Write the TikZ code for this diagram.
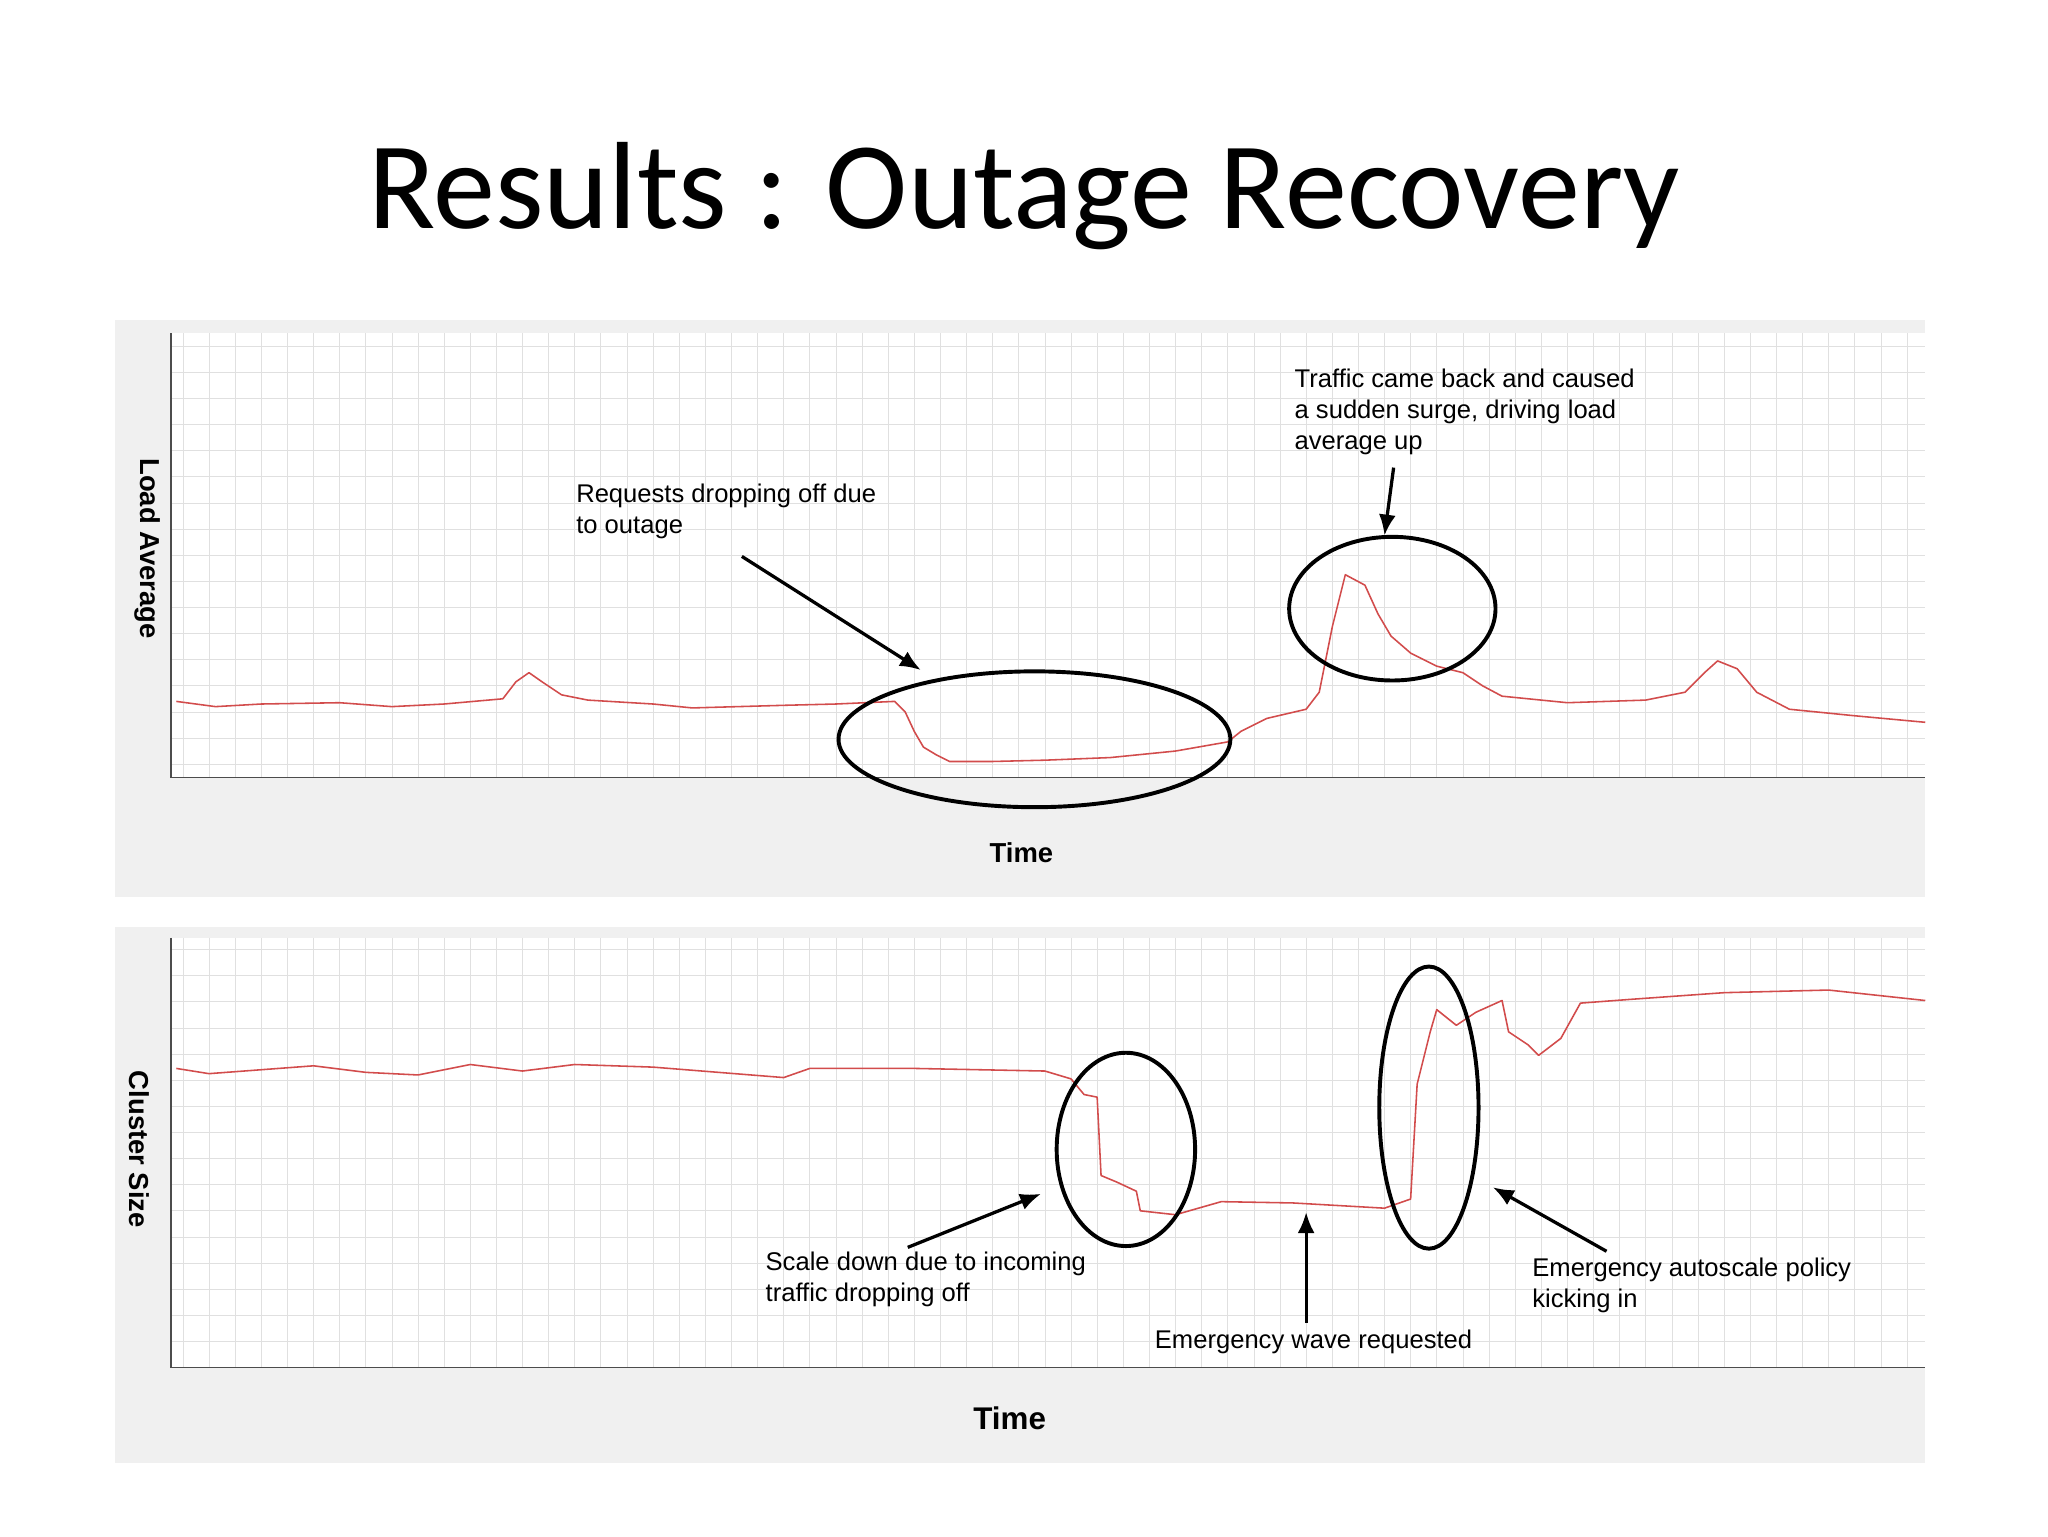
\documentclass[tikz,border=0pt]{standalone}
\usepackage{fontspec}
\setmainfont{Liberation Sans}
\newfontfamily\titlefont{Carlito}
\begin{document}
\begin{tikzpicture}[x=1pt,y=-1pt,
 panel/.style={fill=black!6,draw=none},
 gridl/.style={draw=black!12,line width=0.5pt},
 redl/.style={draw=red!75!black!70,line width=1.2pt,line join=round},
 ring/.style={draw=black,line width=3pt},
 arr/.style={draw=black,line width=2.5pt,-{Latex[length=16pt,width=13pt]}},
 note/.style={font=\fontsize{19.6}{24}\selectfont,align=left,anchor=north west,inner sep=0},
 axl/.style={font=\bfseries\fontsize{21}{24}\selectfont}]
\useasboundingbox (0,0) rectangle (1568,1176);
\usetikzlibrary{arrows.meta}
\node[font=\titlefont\fontsize{95}{100}\selectfont] (title) at (784,150) {Results : Outage Recovery};
% top panel
\fill[panel] (88,245) rectangle (1474,687);
\fill[white] (131,255) rectangle (1474,595);
\foreach \x in {140,160,...,1470} \draw[gridl] (\x,255) -- (\x,595);
\foreach \y in {265,285,...,595} \draw[gridl] (131,\y) -- (1474,\y);
\draw[black!70,line width=1pt] (131,255) -- (131,595) -- (1474,595);
\node[axl,rotate=-90] (ylab1) at (113,420) {Load Average};
\node[axl] (xlab1) at (782,653) {Time};
\draw[redl] (135,537) -- (165,541) -- (200,539) -- (260,538) -- (300,541) -- (340,539) -- (385,535) -- (395,522) -- (405,515) -- (415,522) -- (430,532) -- (450,536) -- (500,539) -- (530,542) -- (600,540) -- (640,539) -- (685,537) -- (693,545) -- (700,560) -- (707,572) -- (717,578) -- (727,583) -- (760,583) -- (800,582) -- (850,580) -- (900,575) -- (940,568) -- (950,560) -- (970,550) -- (1000,543) -- (1010,530) -- (1020,480) -- (1030,440) -- (1045,448) -- (1055,470) -- (1065,487) -- (1080,500) -- (1100,510) -- (1120,515) -- (1135,525) -- (1150,533) -- (1200,538) -- (1260,536) -- (1290,530) -- (1305,515) -- (1315,506) -- (1330,512) -- (1345,530) -- (1370,543) -- (1420,548) -- (1474,553);
\draw[ring] (792,566) ellipse[x radius=150,y radius=52];
\draw[ring] (1066,466) ellipse[x radius=79,y radius=55];
\node[note] (n1) at (441,370) {Requests dropping off due\\to outage};
\node[note] (n2) at (991,282) {Traffic came back and caused\\a sudden surge, driving load\\average up};
\coordinate (a1s) at (568,426); \coordinate (a1e) at (705,513);
\coordinate (a2s) at (1067,358); \coordinate (a2e) at (1060,410);
\draw[arr] (a1s) -- (a1e);
\draw[arr] (a2s) -- (a2e);
% bottom panel
\fill[panel] (88,710) rectangle (1474,1120);
\fill[white] (131,718) rectangle (1474,1047);
\foreach \x in {140,160,...,1470} \draw[gridl] (\x,718) -- (\x,1047);
\foreach \y in {727,747,...,1047} \draw[gridl] (131,\y) -- (1474,\y);
\draw[black!70,line width=1pt] (131,718) -- (131,1047) -- (1474,1047);
\node[axl,rotate=-90] (ylab2) at (107,880) {Cluster Size};
\node[axl,font=\bfseries\fontsize{24}{28}\selectfont] (xlab2) at (773,1086) {Time};
\draw[redl] (135,818) -- (160,822) -- (200,819) -- (240,816) -- (280,821) -- (320,823) -- (360,815) -- (400,820) -- (440,815) -- (500,817) -- (600,825) -- (620,818) -- (700,818) -- (800,820) -- (820,826) -- (830,838) -- (840,840) -- (843,900) -- (855,905) -- (870,912) -- (873,927) -- (900,930) -- (935,920) -- (990,921) -- (1060,925) -- (1080,918) -- (1085,830) -- (1095,790) -- (1100,773) -- (1115,785) -- (1130,775) -- (1150,766) -- (1155,790) -- (1170,800) -- (1178,808) -- (1195,795) -- (1210,768) -- (1250,765) -- (1320,760) -- (1400,758) -- (1474,766);
\draw[ring] (862,880) ellipse[x radius=53,y radius=74];
\draw[ring] (1094,848) ellipse[x radius=38,y radius=108];
\node[note] (n3) at (586,958) {Scale down due to incoming\\traffic dropping off};
\node[note] (n4) at (884,1018) {Emergency wave requested};
\node[note] (n5) at (1173,963) {Emergency autoscale policy\\kicking in};
\coordinate (b1s) at (695,955); \coordinate (b1e) at (797,914);
\coordinate (b2s) at (1000,1013); \coordinate (b2e) at (1000,928);
\coordinate (b3s) at (1230,958); \coordinate (b3e) at (1143,909);
\draw[arr] (b1s) -- (b1e);
\draw[arr] (b2s) -- (b2e);
\draw[arr] (b3s) -- (b3e);
\end{tikzpicture}
\end{document}
